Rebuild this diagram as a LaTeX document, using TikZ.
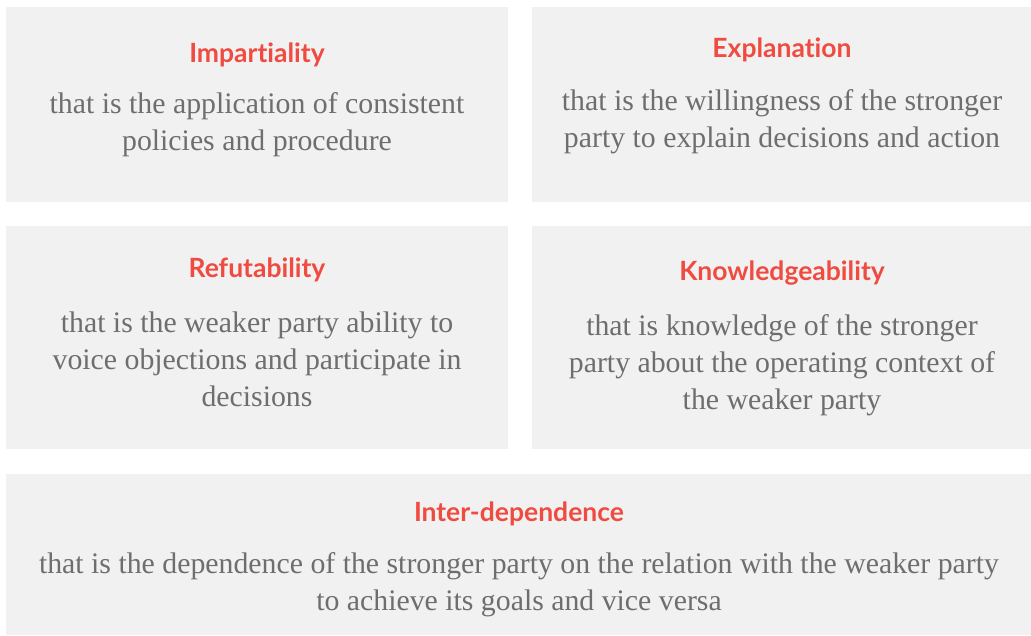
\documentclass[tikz,border=0pt]{standalone}
\usepackage{fontspec}
\setmainfont{Liberation Serif}
\newfontfamily\titlefont[Ligatures={NoCommon,NoRare}]{Lato}
\definecolor{boxgray}{HTML}{F1F1F1}
\definecolor{titlered}{HTML}{F04B40}
\definecolor{bodygray}{HTML}{6E6E6E}
\begin{document}
\begin{tikzpicture}[x=1pt,y=-1pt,
  panel/.style={fill=boxgray,draw=none},
  ttl/.style={font=\titlefont\bfseries\fontsize{26.5}{30}\selectfont,text=titlered,inner sep=0pt},
  body/.style={font=\fontsize{29.8}{37}\selectfont,text=bodygray,align=center,inner sep=0pt}]
\useasboundingbox (0,0) rectangle (1031,635);
\fill[white] (0,0) rectangle (1031,635);
\path[panel] (6,7) rectangle (508,202);
\path[panel] (532,7) rectangle (1031,202);
\path[panel] (6,226) rectangle (508,449);
\path[panel] (532,226) rectangle (1031,449);
\path[panel] (6,474) rectangle (1031,635);
\node[ttl] (t1) at (257,54.5) {Impartiality};
\node[body] (b1) at (257,125) {that is the application of consistent\\policies and procedure};
\node[ttl] (t2) at (782,49.5) {Explanation};
\node[body] (b2) at (782,122) {that is the willingness of the stronger\\party to explain decisions and action};
\node[ttl] (t3) at (257,269.5) {Refutability};
\node[body] (b3) at (257,359.5) {that is the weaker party ability to\\voice objections and participate in\\decisions};
\node[ttl] (t4) at (782,273.5) {Knowledgeability};
\node[body] (b4) at (782,365) {that is knowledge of the stronger\\party about the operating context of\\the weaker party};
\node[ttl] (t5) at (519,513.5) {Inter-dependence};
\node[body] (b5) at (519,585) {that is the dependence of the stronger party on the relation with the weaker party\\to achieve its goals and vice versa};
\end{tikzpicture}
\end{document}
